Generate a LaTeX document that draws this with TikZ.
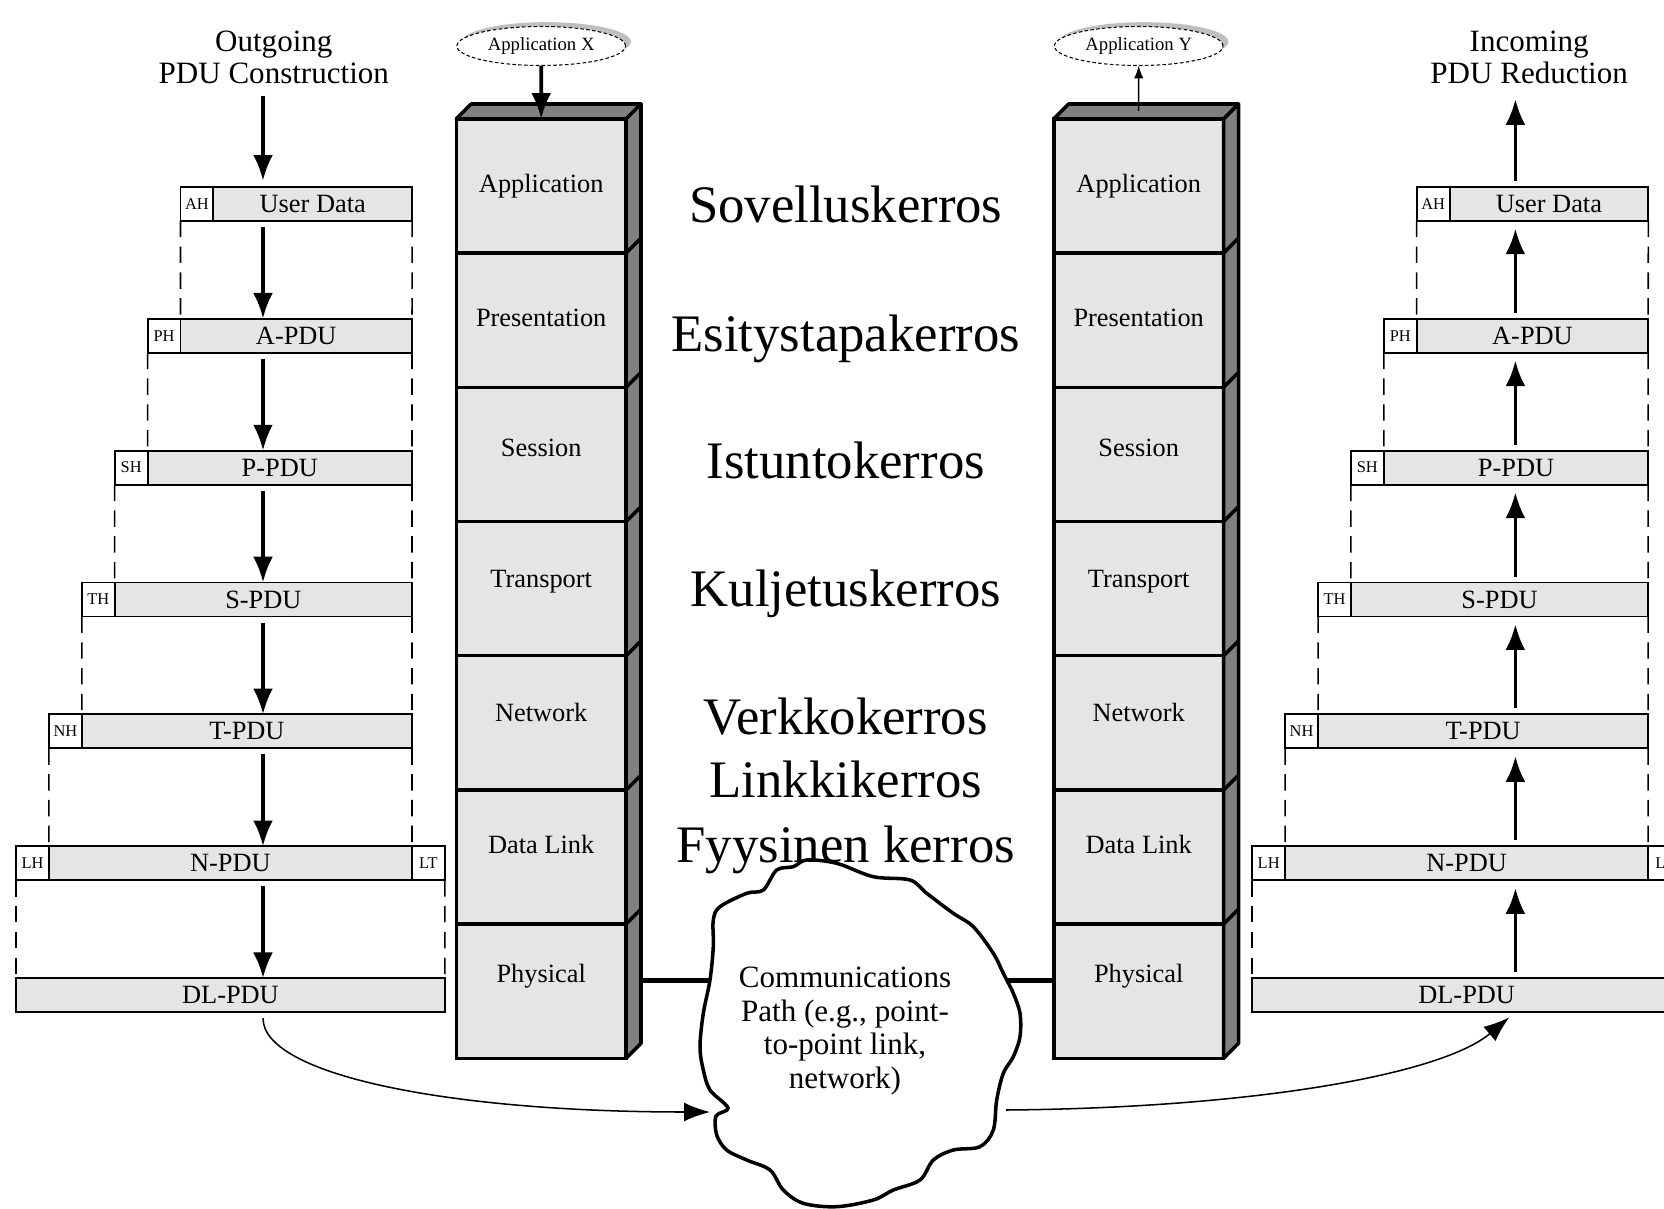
\documentclass[tikz,border=0pt]{standalone}
\usepackage{fontspec}
\setmainfont{Liberation Serif}
\usetikzlibrary{arrows.meta,positioning,shapes.geometric,shadows}

\definecolor{boxgray}{gray}{0.9}
\definecolor{facegray}{gray}{0.5}

\begin{document}
\begin{tikzpicture}[x=0.3mm, y=-0.3mm,
    every node/.style={inner sep=0pt, outer sep=0pt},
    hdr/.style={draw, line width=1.6pt, fill=white, anchor=north west,
      minimum width=9.87mm, minimum height=10.2mm, font=\fontsize{14}{16}\selectfont},
    pdu/.style={draw, line width=1.6pt, fill=boxgray, anchor=north west,
      minimum height=10.2mm, font=\fontsize{22.5}{25}\selectfont},
    osilayer/.style={draw, line width=3pt, fill=boxgray,
      minimum width=50.94mm, minimum height=40.26mm},
    lbl/.style={font=\fontsize{22.5}{25}\selectfont},
    face/.style={draw, line width=3pt, fill=facegray, line join=round},
    appl/.style={ellipse, draw, densely dashed, line width=0.9pt, fill=white,
      minimum width=50.6mm, minimum height=11.7mm, font=\fontsize{16}{18}\selectfont,
      drop shadow={shadow xshift=1.6mm, shadow yshift=1.3mm, opacity=1, fill=black!25}},
    fintxt/.style={anchor=base, font=\fontsize{45}{50}\selectfont},
    headtxt/.style={align=center, font=\fontsize{26.5}{27.2}\selectfont},
    cloudtxt/.style={align=center, font=\fontsize{26.5}{28.7}\selectfont},
    pduarrow/.style={line width=3.2pt, -{Latex[length=22pt, width=17pt]}},
    seam/.style={dash pattern=on 14pt off 8pt, line width=1.3pt},
    bendarrow/.style={line width=1.3pt, -{Latex[length=22pt, width=16pt]}},
    wire/.style={line width=4pt}
  ]
  \useasboundingbox (0,0) rectangle (1664,1209);
  \clip (0,0) rectangle (1664,1209);

  % Left stack
  \node[osilayer, anchor=north west, label={[lbl]center:Application}] (appL) at (456.3,118.9) {};
  \node[osilayer, below=0pt of appL, label={[lbl, yshift=0.6mm]center:Presentation}] (presL) {};
  \node[osilayer, below=0pt of presL, label={[lbl, yshift=2mm]center:Session}] (sessL) {};
  \node[osilayer, below=0pt of sessL, label={[lbl, yshift=2.1mm]center:Transport}] (transL) {};
  \node[osilayer, below=0pt of transL, label={[lbl, yshift=3mm]center:Network}] (netL) {};
  \node[osilayer, below=0pt of netL, label={[lbl, yshift=3.9mm]center:Data Link}] (dlL) {};
  \node[osilayer, below=0pt of dlL, label={[lbl, yshift=4.5mm]center:Physical}] (physL) {};
  \draw[face] (appL.north west) -- ++(14.9,-14.9) -- ++(169.8,0) -- (appL.north east) -- cycle;
  \draw[face] (appL.north east) -- ++(14.9,-14.9) -- ([shift={(14.9,-14.9)}]physL.south east) -- (physL.south east) -- cycle;
  \draw[line width=3pt] (presL.north east) -- ++(14.9,-14.9) (sessL.north east) -- ++(14.9,-14.9)
    (transL.north east) -- ++(14.9,-14.9) (netL.north east) -- ++(14.9,-14.9)
    (dlL.north east) -- ++(14.9,-14.9) (physL.north east) -- ++(14.9,-14.9);

  % Right stack
  \node[osilayer, anchor=north west, label={[lbl]center:Application}] (appR) at (1053.8,118.9) {};
  \node[osilayer, below=0pt of appR, label={[lbl, yshift=0.6mm]center:Presentation}] (presR) {};
  \node[osilayer, below=0pt of presR, label={[lbl, yshift=2mm]center:Session}] (sessR) {};
  \node[osilayer, below=0pt of sessR, label={[lbl, yshift=2.1mm]center:Transport}] (transR) {};
  \node[osilayer, below=0pt of transR, label={[lbl, yshift=3mm]center:Network}] (netR) {};
  \node[osilayer, below=0pt of netR, label={[lbl, yshift=3.9mm]center:Data Link}] (dlR) {};
  \node[osilayer, below=0pt of dlR, label={[lbl, yshift=4.5mm]center:Physical}] (physR) {};
  \draw[face] (appR.north west) -- ++(14.9,-14.9) -- ++(169.8,0) -- (appR.north east) -- cycle;
  \draw[face] (appR.north east) -- ++(14.9,-14.9) -- ([shift={(14.9,-14.9)}]physR.south east) -- (physR.south east) -- cycle;
  \draw[line width=3pt] (presR.north east) -- ++(14.9,-14.9) (sessR.north east) -- ++(14.9,-14.9)
    (transR.north east) -- ++(14.9,-14.9) (netR.north east) -- ++(14.9,-14.9)
    (dlR.north east) -- ++(14.9,-14.9) (physR.north east) -- ++(14.9,-14.9);

  % Applications
  \node[appl] (appx) at (541.2,46) {Application X};
  \node[appl] (appy) at (1138.7,46) {Application Y};

  % Outgoing PDUs
  \node[headtxt] (outt) at (273.8,57) {Outgoing\\PDU Construction};
  \node[hdr] (ah) at (180.5,186.8) {AH};
  \node[pdu, minimum width=59.6mm] (ud) at (ah.north east) {User Data};
  \node[hdr] (ph) at (147.6,318.7) {PH};
  \node[pdu, minimum width=69.45mm] (apdu) at (ph.north east) {A-PDU};
  \node[hdr] (sh) at (114.7,450.6) {SH};
  \node[pdu, minimum width=79.32mm] (ppdu) at (sh.north east) {P-PDU};
  \node[hdr] (th) at (81.8,582.5) {TH};
  \node[pdu, minimum width=89.19mm] (spdu) at (th.north east) {S-PDU};
  \node[hdr] (nh) at (48.9,714.4) {NH};
  \node[pdu, minimum width=99.06mm] (tpdu) at (nh.north east) {T-PDU};
  \node[hdr] (lh) at (16,846.3) {LH};
  \node[pdu, minimum width=108.93mm] (npdu) at (lh.north east) {N-PDU};
  \node[hdr] (lt) at (npdu.north east) {LT};
  \node[pdu, minimum width=128.67mm] (dlpdu) at (16,978.2) {DL-PDU};
  \coordinate (lx) at (263,0);

  % Incoming PDUs
  \node[headtxt] (inct) at (1529.2,57) {Incoming\\PDU Reduction};
  \node[hdr] (ah2) at (1416.7,186.8) {AH};
  \node[pdu, minimum width=59.6mm] (ud2) at (ah2.north east) {User Data};
  \node[hdr] (ph2) at (1383.8,318.7) {PH};
  \node[pdu, minimum width=69.45mm] (apdu2) at (ph2.north east) {A-PDU};
  \node[hdr] (sh2) at (1350.9,450.6) {SH};
  \node[pdu, minimum width=79.32mm] (ppdu2) at (sh2.north east) {P-PDU};
  \node[hdr] (th2) at (1318,582.5) {TH};
  \node[pdu, minimum width=89.19mm] (spdu2) at (th2.north east) {S-PDU};
  \node[hdr] (nh2) at (1285.1,714.4) {NH};
  \node[pdu, minimum width=99.06mm] (tpdu2) at (nh2.north east) {T-PDU};
  \node[hdr] (lh2) at (1252.2,846.3) {LH};
  \node[pdu, minimum width=108.93mm] (npdu2) at (lh2.north east) {N-PDU};
  \node[hdr] (lt2) at (npdu2.north east) {LT};
  \node[pdu, minimum width=128.67mm] (dlpdu2) at (1252.2,978.2) {DL-PDU};
  \coordinate (rx) at (1515.4,0);

  % Communications path
  \draw[wire] ([shift={(14.9,-11)}]physL.east) -- ([shift={(0,-11)}]physR.west);
  \draw[line width=3pt, fill=white] plot[smooth cycle, tension=0.55] coordinates {
    (806.7,860) (836.7,863.3) (873.3,876.7) (910,880) (926.7,893.3) (953.3,913.3)
    (973.3,926.7) (993.3,953.3) (1003.3,973.3) (1013.3,993.3) (1020,1013.3)
    (1020,1036.7) (1013.3,1056.7) (1003.3,1073.3) (996.7,1100) (993.3,1130)
    (980,1146.7) (953.3,1150) (933.3,1160) (920,1180) (893.3,1190) (873.3,1200)
    (836.7,1206.7) (803.3,1203.3) (783.3,1190) (770,1170) (746.7,1160)
    (726.7,1150) (716.7,1135) (716,1116) (728,1108) (710,1090) (703.3,1070)
    (700,1046.7) (703.3,1013.3) (710,980) (713.3,946.7) (713.3,920) (720,906.7)
    (746.7,893.3) (763.3,890) (776.7,870) (793.3,866.7)};
  \node[cloudtxt] (cpath) at (845,1031) {Communications\\Path (e.g., point-\\to-point link,\\network)};
  \coordinate (cl) at (710,1112);
  \coordinate (cr) at (1006,1110);

  % Layer names
  \node[fintxt] (sov) at (845.8,222) {Sovelluskerros};
  \node[fintxt] (esi) at (845.8,351) {Esitystapakerros};
  \node[fintxt] (ist) at (845.8,478) {Istuntokerros};
  \node[fintxt] (kul) at (845.8,606) {Kuljetuskerros};
  \node[fintxt] (ver) at (845.8,734) {Verkkokerros};
  \node[fintxt] (lin) at (845.8,797) {Linkkikerros};
  \node[fintxt] (fyy) at (845.8,862) {Fyysinen kerros};

  % Arrows
  \draw[pduarrow] (appx) -- (appL.north);
  \draw[line width=1.3pt, -{Latex[length=11pt, width=8pt]}, shorten <=2.4mm] (appR.north) -- (appy);
  \draw[pduarrow, shorten <=3.7mm, shorten >=1.8mm] (outt.south -| lx) -- (ud.north -| lx);
  \draw[pduarrow, shorten <=1.8mm] (ud.south -| lx) -- (apdu.north -| lx);
  \draw[pduarrow, shorten <=1.8mm] (apdu.south -| lx) -- (ppdu.north -| lx);
  \draw[pduarrow, shorten <=1.8mm] (ppdu.south -| lx) -- (spdu.north -| lx);
  \draw[pduarrow, shorten <=1.8mm] (spdu.south -| lx) -- (tpdu.north -| lx);
  \draw[pduarrow, shorten <=1.8mm] (tpdu.south -| lx) -- (npdu.north -| lx);
  \draw[pduarrow, shorten <=1.8mm] (npdu.south -| lx) -- (dlpdu.north -| lx);
  \draw[pduarrow, shorten <=1.8mm, shorten >=4.7mm] (ud2.north -| rx) -- (inct.south -| rx);
  \draw[pduarrow, shorten <=1.8mm, shorten >=2.3mm] (apdu2.north -| rx) -- (ud2.south -| rx);
  \draw[pduarrow, shorten <=1.8mm, shorten >=2.3mm] (ppdu2.north -| rx) -- (apdu2.south -| rx);
  \draw[pduarrow, shorten <=1.8mm, shorten >=2.3mm] (spdu2.north -| rx) -- (ppdu2.south -| rx);
  \draw[pduarrow, shorten <=1.8mm, shorten >=2.3mm] (tpdu2.north -| rx) -- (spdu2.south -| rx);
  \draw[pduarrow, shorten <=1.8mm, shorten >=2.3mm] (npdu2.north -| rx) -- (tpdu2.south -| rx);
  \draw[pduarrow, shorten <=1.8mm, shorten >=2.3mm] (dlpdu2.north -| rx) -- (npdu2.south -| rx);

  % Dashed guides
  \draw[seam] (ah.south west) -- (ph.north east);
  \draw[seam] (ud.south east) -- (apdu.north east);
  \draw[seam] (ph.south west) -- (sh.north east);
  \draw[seam] (apdu.south east) -- (ppdu.north east);
  \draw[seam] (sh.south west) -- (th.north east);
  \draw[seam] (ppdu.south east) -- (spdu.north east);
  \draw[seam] (th.south west) -- (nh.north east);
  \draw[seam] (spdu.south east) -- (tpdu.north east);
  \draw[seam] (nh.south west) -- (lh.north east);
  \draw[seam] (tpdu.south east) -- (npdu.north east);
  \draw[seam] (lh.south west) -- (dlpdu.north west);
  \draw[seam] (lt.south east) -- (dlpdu.north east);
  \draw[seam] (ah2.south west) -- (ph2.north east);
  \draw[seam] (ud2.south east) -- (apdu2.north east);
  \draw[seam] (ph2.south west) -- (sh2.north east);
  \draw[seam] (apdu2.south east) -- (ppdu2.north east);
  \draw[seam] (sh2.south west) -- (th2.north east);
  \draw[seam] (ppdu2.south east) -- (spdu2.north east);
  \draw[seam] (th2.south west) -- (nh2.north east);
  \draw[seam] (spdu2.south east) -- (tpdu2.north east);
  \draw[seam] (nh2.south west) -- (lh2.north east);
  \draw[seam] (tpdu2.south east) -- (npdu2.north east);
  \draw[seam] (lh2.south west) -- (dlpdu2.north west);
  \draw[seam] (lt2.south east) -- (dlpdu2.north east);

  % Transfer
  \draw[bendarrow, shorten <=1.8mm] (dlpdu.south -| lx) .. controls +(0,63) and +(-260,0) .. (cl);
  \draw[bendarrow, shorten >=2.4mm] (cr) .. controls +(244,-2) and +(-75,63) .. (dlpdu2.south -| rx);
\end{tikzpicture}
\end{document}
